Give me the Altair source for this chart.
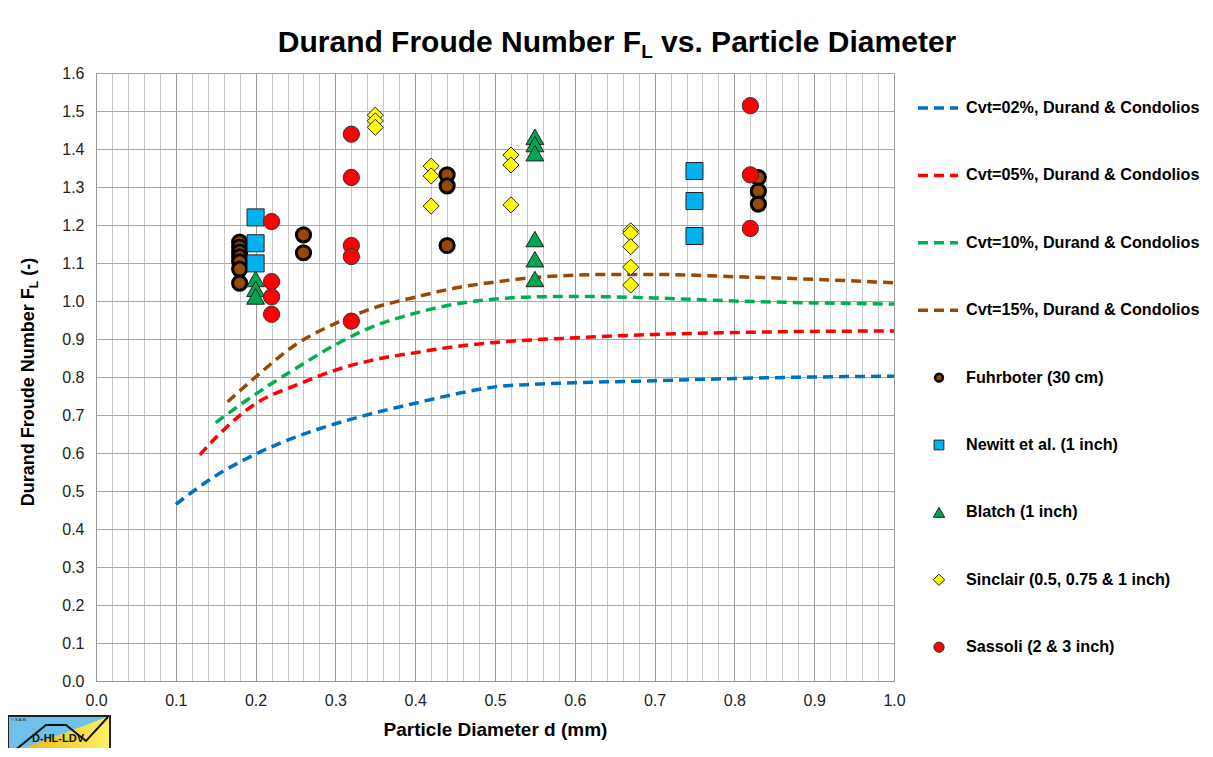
import altair as alt
import pandas as pd

# ---------------- data ----------------
cvt02_x = [0.10, 0.15, 0.20, 0.25, 0.30, 0.35, 0.40, 0.45, 0.50, 0.55, 0.60, 0.70, 0.80, 0.90, 1.00]
cvt02_y = [0.465, 0.540, 0.597, 0.642, 0.677, 0.706, 0.731, 0.755, 0.774, 0.781, 0.785, 0.790, 0.796, 0.800, 0.802]
cvt05_x = [0.13, 0.15, 0.20, 0.25, 0.30, 0.35, 0.40, 0.45, 0.50, 0.60, 0.70, 0.80, 0.90, 1.00]
cvt05_y = [0.595, 0.640, 0.730, 0.778, 0.818, 0.846, 0.864, 0.880, 0.891, 0.903, 0.912, 0.917, 0.920, 0.921]
cvt10_x = [0.15, 0.20, 0.25, 0.30, 0.35, 0.40, 0.45, 0.50, 0.55, 0.60, 0.70, 0.80, 0.90, 1.00]
cvt10_y = [0.680, 0.755, 0.822, 0.885, 0.935, 0.968, 0.992, 1.005, 1.011, 1.012, 1.008, 1.000, 0.995, 0.992]
cvt15_x = [0.165, 0.20, 0.25, 0.30, 0.35, 0.40, 0.45, 0.50, 0.55, 0.60, 0.65, 0.70, 0.80, 0.90, 1.00]
cvt15_y = [0.735, 0.800, 0.885, 0.941, 0.983, 1.010, 1.034, 1.050, 1.062, 1.068, 1.070, 1.070, 1.064, 1.057, 1.048]

fuhr_x = [0.18, 0.18, 0.18, 0.18, 0.18, 0.18, 0.18, 0.26, 0.26, 0.44, 0.44, 0.44, 0.83, 0.83, 0.83]
fuhr_y = [1.155, 1.142, 1.129, 1.116, 1.103, 1.084, 1.047, 1.174, 1.127, 1.332, 1.303, 1.146, 1.325, 1.289, 1.255]
newitt_x = [0.20, 0.20, 0.20, 0.75, 0.75, 0.75]
newitt_y = [1.220, 1.152, 1.099, 1.342, 1.263, 1.171]
blatch_x = [0.20, 0.20, 0.20, 0.55, 0.55, 0.55, 0.55, 0.55, 0.55]
blatch_y = [1.058, 1.032, 1.012, 1.432, 1.413, 1.389, 1.163, 1.110, 1.058]
sinclair_x = [0.35, 0.35, 0.35, 0.42, 0.42, 0.42, 0.52, 0.52, 0.52, 0.67, 0.67, 0.67, 0.67, 0.67]
sinclair_y = [1.489, 1.474, 1.457, 1.355, 1.329, 1.250, 1.384, 1.358, 1.253, 1.185, 1.178, 1.143, 1.089, 1.042]
sassoli_x = [0.22, 0.22, 0.22, 0.22, 0.32, 0.32, 0.32, 0.32, 0.32, 0.82, 0.82, 0.82]
sassoli_y = [1.209, 1.051, 1.011, 0.965, 1.439, 1.325, 1.146, 1.117, 0.947, 1.514, 1.332, 1.191]

line_labels = ["Cvt=02%, Durand & Condolios", "Cvt=05%, Durand & Condolios",
               "Cvt=10%, Durand & Condolios", "Cvt=15%, Durand & Condolios"]
line_colors = ["#0070C0", "#FF0000", "#00B050", "#984807"]
point_labels = ["Fuhrboter (30 cm)", "Newitt et al. (1 inch)", "Blatch (1 inch)",
                "Sinclair (0.5, 0.75 & 1 inch)", "Sassoli (2 & 3 inch)"]

x_ticks = [round(i * 0.02, 2) for i in range(51)]
y_ticks = [round(i * 0.1, 1) for i in range(17)]

FONT = "Liberation Sans"
W = {' ': 278, 'D': 722, 'u': 611, 'r': 389, 'a': 556, 'n': 611, 'd': 611, 'F': 611, 'o': 611,
     'e': 556, 'N': 722, 'm': 889, 'b': 611, 'L': 611, 'v': 556, 's': 556, '.': 278, 'P': 667,
     't': 333, 'i': 278, 'c': 556, 'l': 278, '(': 333, ')': 333, '-': 333}


def tw(s, size):
    return sum(W.get(c, 556) for c in s) / 1000.0 * size


PW, PH = 798, 608

xscale = alt.Scale(domain=[0, 1], nice=False, zero=False)
yscale = alt.Scale(domain=[0, 1.6], nice=False, zero=False)
major = "abs(datum.value*10 - round(datum.value*10)) < 0.001"
xaxis = alt.Axis(values=x_ticks, labelExpr=f"{major} ? format(datum.value, '.1f') : ''",
                 title="Particle Diameter d (mm)", titleFontSize=19, titleFontWeight="bold",
                 titleColor="black", titlePadding=12,
                 labelFontSize=16, labelColor="#222", labelPadding=11, ticks=False,
                 labelOverlap=False, labelFlush=False,
                 gridColor={"condition": {"test": major, "value": "#9a9a9a"}, "value": "#c8c8c8"},
                 gridWidth=1, domainColor="#999")
yaxis = alt.Axis(values=y_ticks, format=".1f", title=None, labelFontSize=16, labelColor="#222",
                 labelPadding=12, ticks=False, gridColor="#a8a8a8", gridWidth=1, domainColor="#999")


def X(f):
    return alt.X(f, type="quantitative", scale=xscale, axis=xaxis)


def Y(f):
    return alt.Y(f, type="quantitative", scale=yscale, axis=yaxis)


# curves
rows = []
for lab, xs, ys in zip(line_labels, [cvt02_x, cvt05_x, cvt10_x, cvt15_x],
                       [cvt02_y, cvt05_y, cvt10_y, cvt15_y]):
    for a, b in zip(xs, ys):
        rows.append({"series": lab, "d": a, "F": b})
curves = alt.Chart(pd.DataFrame(rows)).mark_line(
    strokeDash=[10, 6], strokeWidth=3.5, interpolate="monotone"
).encode(
    x=X("d"), y=Y("F"),
    color=alt.Color("series:N", scale=alt.Scale(domain=line_labels, range=line_colors), legend=None),
    detail="series:N",
)

pt_specs = [
    (fuhr_x, fuhr_y, "circle", "#974A06", "black", 3.0, 200, 60, 2.6),
    (newitt_x, newitt_y, "square", "#00B0F0", "#222", 1.0, 290, 95, 1.0),
    (blatch_x, blatch_y, "triangle-up", "#00A651", "#222", 1.0, 320, 130, 1.0),
    (sinclair_x, sinclair_y, "diamond", "#FFFF00", "#222", 1.0, 260, 130, 1.0),
    (sassoli_x, sassoli_y, "circle", "#FF0000", "#333", 1.0, 265, 105, 1.0),
]
point_layers = []
legend_layers = []
row_y = [35 + 67.4 * i for i in range(9)]

for i, (lab, col) in enumerate(zip(line_labels, line_colors)):
    legend_layers.append(
        alt.Chart(pd.DataFrame({"label": [lab]})).mark_rule(
            color=col, strokeWidth=3.5, strokeDash=[10, 6]
        ).encode(x=alt.value(822), x2=alt.value(862), y=alt.value(row_y[i]))
    )
    legend_layers.append(
        alt.Chart(pd.DataFrame({"label": [lab]})).mark_text(
            align="left", baseline="middle", font=FONT, fontSize=16.2, fontWeight="bold", color="black"
        ).encode(x=alt.value(870), y=alt.value(row_y[i]), text="label:N")
    )

for j, ((xs, ys, shape, fill, stroke, sw, size, lsize, lsw), lab) in enumerate(zip(pt_specs, point_labels)):
    point_layers.append(
        alt.Chart(pd.DataFrame({"d": xs, "F": ys})).mark_point(
            shape=shape, filled=True, fill=fill, stroke=stroke, strokeWidth=sw,
            size=size, opacity=1, fillOpacity=1
        ).encode(x=X("d"), y=Y("F"))
    )
    yy = row_y[4 + j]
    legend_layers.append(
        alt.Chart(pd.DataFrame({"label": [lab]})).mark_point(
            shape=shape, filled=True, fill=fill, stroke=stroke, strokeWidth=lsw,
            size=lsize, opacity=1, fillOpacity=1
        ).encode(x=alt.value(843), y=alt.value(yy))
    )
    legend_layers.append(
        alt.Chart(pd.DataFrame({"label": [lab]})).mark_text(
            align="left", baseline="middle", font=FONT, fontSize=16.2, fontWeight="bold", color="black"
        ).encode(x=alt.value(870), y=alt.value(yy), text="label:N")
    )

# title with subscript
t1, tsub, t3 = "Durand Froude Number F", "L", "vs. Particle Diameter"
TS, SS = 30, 19
tot = tw(t1, TS) + tw(tsub, SS) + tw(" " + t3, TS)
tx0 = 521 - tot / 2
ty = -21
title_layers = [
    alt.Chart(pd.DataFrame({"t": [t1]})).mark_text(
        align="left", baseline="alphabetic", font=FONT, fontSize=TS, fontWeight="bold", color="black"
    ).encode(x=alt.value(tx0), y=alt.value(ty), text="t:N"),
    alt.Chart(pd.DataFrame({"t": [tsub]})).mark_text(
        align="left", baseline="alphabetic", font=FONT, fontSize=SS, fontWeight="bold", color="black"
    ).encode(x=alt.value(tx0 + tw(t1, TS)), y=alt.value(ty + 6), text="t:N"),
    alt.Chart(pd.DataFrame({"t": [t3]})).mark_text(
        align="left", baseline="alphabetic", font=FONT, fontSize=TS, fontWeight="bold", color="black"
    ).encode(x=alt.value(tx0 + tw(t1, TS) + tw(tsub, SS) + tw(" ", TS)), y=alt.value(ty), text="t:N"),
]

# y axis title with subscript (rotated)
y1, ysub, y3 = "Durand Froude Number F", "L", "(-)"
YS, YSS = 18, 12
ytot = tw(y1, YS) + tw(ysub, YSS) + tw(" " + y3, YS)
yb = 309 + ytot / 2
yx = -67
ytitle_layers = [
    alt.Chart(pd.DataFrame({"t": [y1]})).mark_text(
        align="left", baseline="middle", angle=270, font=FONT, fontSize=YS, fontWeight="bold", color="black"
    ).encode(x=alt.value(yx), y=alt.value(yb), text="t:N"),
    alt.Chart(pd.DataFrame({"t": [ysub]})).mark_text(
        align="left", baseline="middle", angle=270, font=FONT, fontSize=YSS, fontWeight="bold", color="black"
    ).encode(x=alt.value(yx + 5), y=alt.value(yb - tw(y1, YS)), text="t:N"),
    alt.Chart(pd.DataFrame({"t": [y3]})).mark_text(
        align="left", baseline="middle", angle=270, font=FONT, fontSize=YS, fontWeight="bold", color="black"
    ).encode(x=alt.value(yx), y=alt.value(yb - tw(y1, YS) - tw(ysub, YSS) - tw(" ", YS)), text="t:N"),
]

# small logo (decorative) at bottom-left
logo_rect = alt.Chart(pd.DataFrame({"a": [0]})).mark_rect(
    fill=alt.Gradient(gradient="linear", x1=0, x2=1, y1=0, y2=0,
                      stops=[alt.GradientStop(color="#E3B200", offset=0),
                             alt.GradientStop(color="#FFF066", offset=1)]),
    stroke="#222", strokeWidth=2
).encode(x=alt.value(-88), x2=alt.value(14), y=alt.value(643), y2=alt.value(690))
logo_tri = alt.Chart(pd.DataFrame({"px": [-88, 14], "top": [643, 643], "bot": [681, 643]})).mark_area(
    color="#6EC1EA", opacity=1
).encode(x=alt.X("px:Q", scale=None), y=alt.Y("top:Q", scale=None), y2="bot:Q")
logo_line = alt.Chart(pd.DataFrame({"px": [-88, -50, -30, -10, 12], "py": [683, 652, 652, 668, 644], "o": [0, 1, 2, 3, 4]})).mark_line(
    color="#111", strokeWidth=2
).encode(x=alt.X("px:Q", scale=None), y=alt.Y("py:Q", scale=None), order="o:Q")
logo_box = alt.Chart(pd.DataFrame({"a": [0]})).mark_rect(
    fill=None, filled=False, stroke="#222", strokeWidth=2
).encode(x=alt.value(-88), x2=alt.value(14), y=alt.value(643), y2=alt.value(690))
logo_text = alt.Chart(pd.DataFrame({"t": ["D-HL-LDV"]})).mark_text(
    font=FONT, fontSize=11, fontWeight="bold", color="#111", align="center", baseline="middle"
).encode(x=alt.value(-38), y=alt.value(666), text="t:N")
logo_c = alt.Chart(pd.DataFrame({"t": ["© S.A.M."]})).mark_text(
    font=FONT, fontSize=4, color="#111", align="left", baseline="middle"
).encode(x=alt.value(-85), y=alt.value(647), text="t:N")

chart = alt.layer(
    curves, *point_layers, *legend_layers, *title_layers, *ytitle_layers,
    logo_rect, logo_tri, logo_line, logo_box, logo_text, logo_c
).properties(
    width=PW, height=PH,
    autosize=alt.AutoSizeParams(type="none"),
    padding={"left": 88, "top": 65, "right": 309, "bottom": 67},
    background="white",
).configure_view(
    stroke="#999", strokeWidth=1
).configure(
    font=FONT
)

chart.save("out.html", embed_options={"renderer": "svg", "actions": False})
